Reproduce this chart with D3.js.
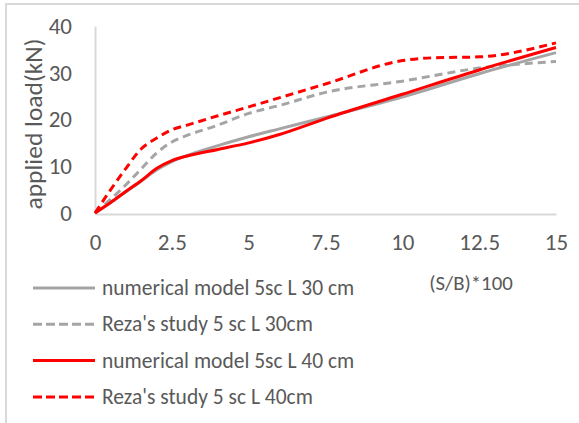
<!DOCTYPE html>
<html>
<head>
<meta charset="utf-8">
<script src="https://cdn.jsdelivr.net/npm/d3@7"></script>
<style>
  body { margin: 0; background: #fff; }
  text { font-family: Carlito, "Liberation Sans", Arial, sans-serif; fill: #595959; }
</style>
</head>
<body>
<div id="chart"></div>
<script>
// Data: x = (S/B)*100, y = applied load (kN)
const numerical30X = [0, 1, 1.5, 2, 2.5, 3, 4, 5, 6, 7.5, 10, 12.5, 15];
const numerical30Y = [0, 4.5, 6.8, 9.2, 11, 12.3, 14.4, 16.3, 18, 20.5, 24.8, 29.8, 34.3];

const reza30X = [0, 1, 1.5, 2, 2.5, 3, 4, 5, 6, 7.5, 10, 12.5, 15];
const reza30Y = [0, 6, 9.4, 12.8, 15.2, 16.6, 18.8, 21.3, 23, 25.8, 28.2, 31, 32.4];

const numerical40X = [0, 0.5, 1, 1.5, 2, 2.5, 3, 4, 5, 6, 7.5, 10, 12.5, 15];
const numerical40Y = [0, 2.2, 4.6, 6.9, 9.5, 11.2, 12.2, 13.6, 15, 16.8, 20.2, 25.4, 30.6, 35.4];

const reza40X = [0, 0.5, 1, 1.5, 2, 2.5, 3, 4, 5, 7.5, 10, 11, 12.5, 15];
const reza40Y = [0, 4.9, 9.5, 13.7, 16, 17.8, 18.8, 20.8, 22.7, 27.6, 32.6, 33.2, 33.4, 36.4];

const xTicks = [0, 2.5, 5, 7.5, 10, 12.5, 15];
const yTicks = [0, 10, 20, 30, 40];

const seriesNames = [
    "numerical model 5sc L 30 cm",
    "Reza's study 5 sc L 30cm",
    "numerical model 5sc L 40 cm",
    "Reza's study 5 sc L 40cm"
];

const W = 579, H = 423;
const plot = { left: 95, right: 556, top: 26, bottom: 213 };

const svg = d3.select("#chart")
    .append("svg")
    .attr("width", W)
    .attr("height", H);

// outer chart border
svg.append("rect")
    .attr("x", 6).attr("y", 4)
    .attr("width", W).attr("height", H)
    .attr("fill", "none")
    .attr("stroke", "#d9d9d9")
    .attr("stroke-width", 2);

const x = d3.scaleLinear().domain([0, 15]).range([plot.left, plot.right]);
const y = d3.scaleLinear().domain([0, 40]).range([plot.bottom, plot.top]);

// axes (no tick marks, light gray domain lines)
const xAxis = svg.append("g")
    .attr("transform", `translate(0,${plot.bottom + 1})`)
    .call(d3.axisBottom(x).tickValues(xTicks).tickSize(0).tickPadding(20).tickFormat(d3.format("")));
const yAxis = svg.append("g")
    .attr("transform", `translate(${plot.left},0)`)
    .call(d3.axisLeft(y).tickValues(yTicks).tickSize(0).tickPadding(23));

[xAxis, yAxis].forEach(g => {
    g.select(".domain").attr("stroke", "#d9d9d9").attr("stroke-width", 2);
    g.selectAll("text")
        .style("font-family", "Carlito, 'Liberation Sans', Arial, sans-serif")
        .style("font-size", "23px")
        .attr("fill", "#595959");
});

// axis titles
svg.append("text")
    .attr("transform", `translate(42,124) rotate(-90)`)
    .attr("text-anchor", "middle")
    .style("font-size", "25.5px")
    .text("applied load(kN)");

svg.append("text")
    .attr("x", 471).attr("y", 290)
    .attr("text-anchor", "middle")
    .style("font-size", "20.8px")
    .text("(S/B)*100");

// series lines
const series = [
    { xs: numerical30X, ys: numerical30Y, color: "#a5a5a5", dash: null },
    { xs: reza30X, ys: reza30Y, color: "#a5a5a5", dash: "8,5" },
    { xs: numerical40X, ys: numerical40Y, color: "#ff0000", dash: null },
    { xs: reza40X, ys: reza40Y, color: "#ff0000", dash: "8,5" }
];

const line = d3.line()
    .x(d => x(d[0]))
    .y(d => y(d[1]))
    .curve(d3.curveMonotoneX);

series.forEach(s => {
    svg.append("path")
        .datum(s.xs.map((v, i) => [v, s.ys[i]]))
        .attr("fill", "none")
        .attr("stroke", s.color)
        .attr("stroke-width", 3)
        .attr("stroke-dasharray", s.dash)
        .attr("d", line);
});

// legend
const legend = svg.append("g");
series.forEach((s, i) => {
    const ly = 288 + i * 36.3;
    legend.append("line")
        .attr("x1", 33).attr("x2", 95)
        .attr("y1", ly).attr("y2", ly)
        .attr("stroke", s.color)
        .attr("stroke-width", 3)
        .attr("stroke-dasharray", s.dash ? "9,4" : null);
    legend.append("text")
        .attr("x", 102).attr("y", ly + 7)
        .style("font-size", "21.5px")
        .text(seriesNames[i]);
});
</script>
</body>
</html>
